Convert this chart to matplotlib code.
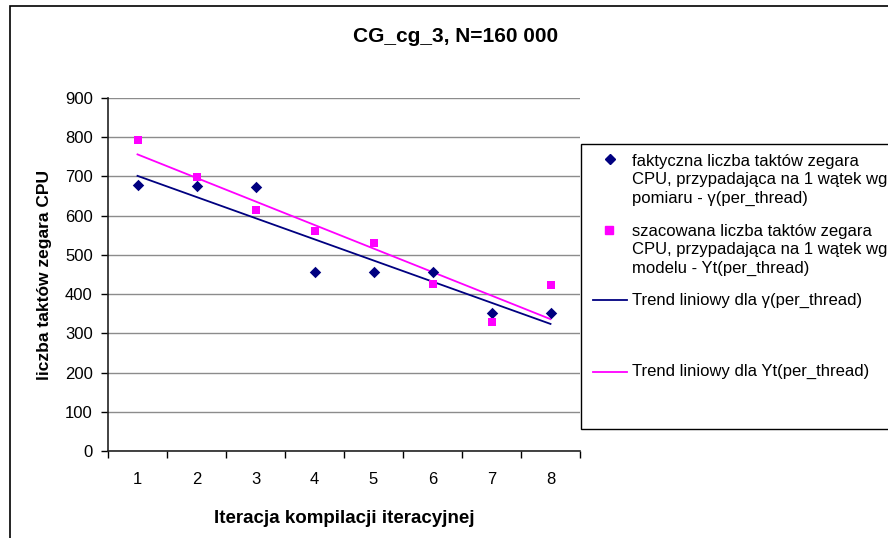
import numpy as np
import matplotlib
matplotlib.use("Agg")
import matplotlib.pyplot as plt
from matplotlib.lines import Line2D
from matplotlib.patches import Rectangle

plt.rcParams["font.family"] = ["Liberation Sans", "DejaVu Sans"]

NAVY = "#000080"
MAGENTA = "#FF00FF"
GRID = "#8c8c8c"

iterations = [1, 2, 3, 4, 5, 6, 7, 8]
measured = [678, 675, 672, 457, 457, 457, 353, 353]
estimated = [792, 698, 615, 560, 530, 425, 328, 422]
y_ticks = [0, 100, 200, 300, 400, 500, 600, 700, 800, 900]

label_meas = "faktyczna liczba taktów zegara\nCPU, przypadająca na 1 wątek wg\npomiaru - γ(per_thread)"
label_est = "szacowana liczba taktów zegara\nCPU, przypadająca na 1 wątek wg\nmodelu - Yt(per_thread)"
label_tr_meas = "Trend liniowy dla γ(per_thread)"
label_tr_est = "Trend liniowy dla Yt(per_thread)"

W, H = 888, 538


def fx(px):
    return px / W


def fy(py):
    return 1 - py / H


fig = plt.figure(figsize=(W / 100, H / 100), dpi=100)
fig.patch.set_facecolor("white")

# outer chart frame (right/bottom edges fall outside the picture)
fig.add_artist(Rectangle((fx(10), fy(700)), 2.0, fy(5.5) - fy(700),
                         transform=fig.transFigure, fill=False,
                         edgecolor="black", linewidth=1.2))

ax = fig.add_axes([fx(108), fy(451), fx(580) - fx(108), fy(98) - fy(451)])
x = np.array(iterations)

ax.scatter(x, measured, marker="D", s=34, color=NAVY, zorder=4, linewidths=0)
ax.scatter(x, estimated, marker="s", s=38, color=MAGENTA, zorder=4, linewidths=0)

# linear trend lines (least squares, as in the spreadsheet)
for vals, col in ((measured, NAVY), (estimated, MAGENTA)):
    k, b = np.polyfit(x, vals, 1)
    ax.plot([x[0], x[-1]], [k * x[0] + b, k * x[-1] + b], color=col,
            linewidth=1.3, zorder=3)

ax.set_xlim(0.5, 8.5)
ax.set_ylim(0, 900)
ax.set_yticks(y_ticks)
ax.set_xticks(iterations)
ax.set_xticks(np.arange(0.5, 9.0, 1.0), minor=True)
ax.tick_params(axis="x", which="major", length=0, pad=15, labelsize=12)
ax.tick_params(axis="x", which="minor", length=5, direction="out", width=1)
ax.tick_params(axis="y", length=5, direction="out", width=1, labelsize=12, pad=6)
ax.yaxis.grid(True, color=GRID, linewidth=1.0)
ax.set_axisbelow(True)
for side in ("top", "right"):
    ax.spines[side].set_visible(False)
for side in ("left", "bottom"):
    ax.spines[side].set_linewidth(1.2)
    ax.spines[side].set_color("#222222")

ax.set_xlabel("Iteracja kompilacji iteracyjnej", fontsize=13.5, fontweight="bold",
              labelpad=17)
ax.set_ylabel("liczba taktów zegara CPU", fontsize=12.5, fontweight="bold",
              labelpad=9)

fig.text(fx(456), fy(37), "CG_cg_3, N=160 000", ha="center", va="center",
         fontsize=15, fontweight="bold")

# legend box drawn by hand to match the spreadsheet layout
fig.add_artist(Rectangle((fx(581), fy(429)), 0.5, fy(144) - fy(429),
                         transform=fig.transFigure, fill=True, facecolor="white",
                         edgecolor="black", linewidth=1.0, zorder=5))
fig.add_artist(Line2D([fx(610)], [fy(159)], marker="D", markersize=5,
                      color=NAVY, linestyle="none", zorder=6))
fig.add_artist(Line2D([fx(609)], [fy(230)], marker="s", markersize=5.5,
                      color=MAGENTA, linestyle="none", zorder=6))
fig.add_artist(Line2D([fx(593), fx(627)], [fy(300), fy(300)], color=NAVY,
                      linewidth=1.3, zorder=6))
fig.add_artist(Line2D([fx(593), fx(627)], [fy(371.5), fy(371.5)], color=MAGENTA,
                      linewidth=1.3, zorder=6))
for label, py in ((label_meas, 180), (label_est, 250),
                  (label_tr_meas, 300), (label_tr_est, 371.5)):
    fig.text(fx(632), fy(py), label, ha="left", va="center", fontsize=12,
             linespacing=1.25, zorder=7)

fig.savefig("out.png", dpi=100)
